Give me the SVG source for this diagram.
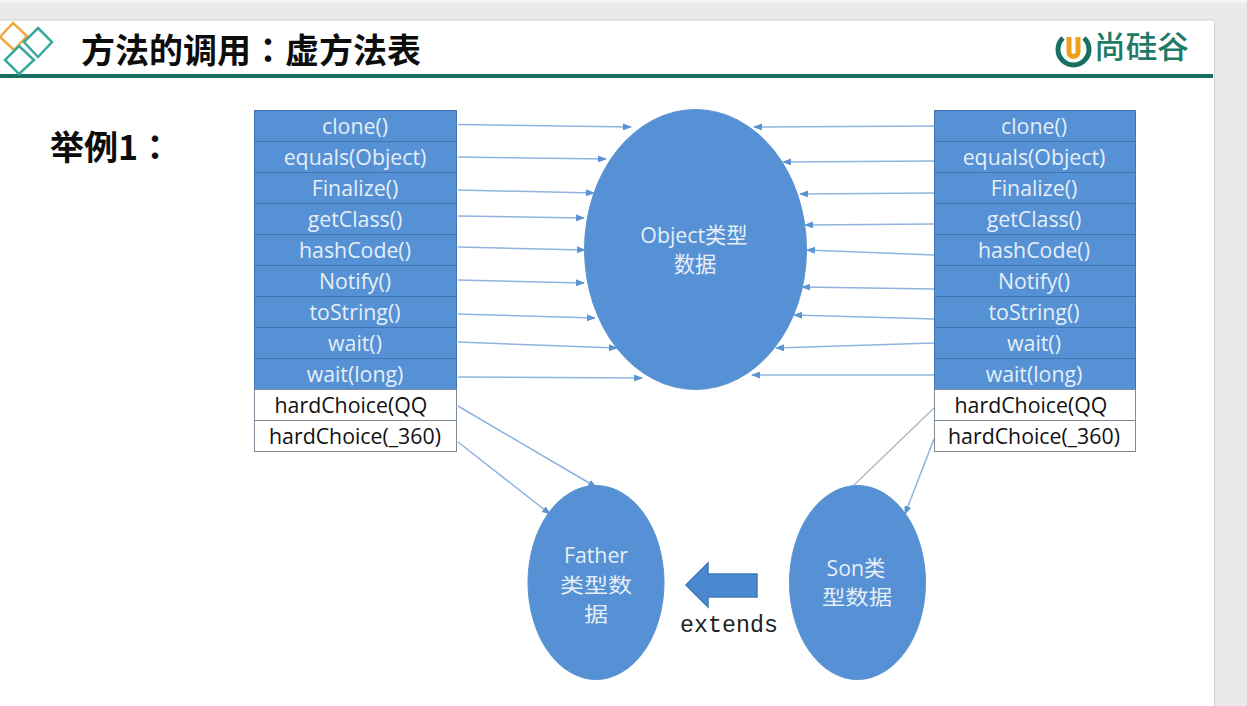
<svg xmlns="http://www.w3.org/2000/svg" width="1247" height="706" viewBox="0 0 1247 706">
<defs>
<marker id="ah" markerWidth="9" markerHeight="7" refX="8" refY="3.5" orient="auto" markerUnits="userSpaceOnUse"><path d="M0 0L9 3.5L0 7Z" fill="#5b94d3"/></marker>
</defs>
<style>
.t{font-family:"Open Sans","Noto Sans CJK SC",sans-serif;font-size:21.3px;text-anchor:middle}
.z{font-size:20px}
.w{fill:#e6eef8}
.k{fill:#111}
.c{fill:#5591d4;stroke:#3f76b0;stroke-width:1}
.b{fill:#fff;stroke:#7f8a99;stroke-width:1}
.e{fill:#5591d4;stroke:#5b93cf;stroke-width:1}
.l{stroke:#8fb3de;stroke-width:1.500;fill:none;marker-end:url(#ah)}
.title{font-family:"Noto Sans CJK TC",sans-serif;font-weight:700;fill:#0d0d0d;font-size:34px}
</style>
<rect width="1247" height="706" fill="#eaeaea"/>
<rect x="0" y="0" width="1247" height="3" fill="#f3f3f3"/>
<rect x="0" y="20" width="1214" height="686" fill="#fff"/>
<path d="M1214.500 20V706M0 20H1214" stroke="#d0d0d0" fill="none"/>
<g id="header">
<path d="M0 76H1213" stroke="#17705f" stroke-width="4"/>
<path d="M13 23L27 36L14 50L0 37Z" fill="none" stroke="#f0a93c" stroke-width="2.500"/>
<path d="M38 28L52 42L38 57L24 42Z" fill="none" stroke="#3aa99d" stroke-width="2.500"/>
<path d="M19 46L34 60L19 74L5 60Z" fill="none" stroke="#3aa99d" stroke-width="2.500"/>
<text class="title" x="81" y="63">方法的调用：虚方法表</text>
<text class="title" x="50" y="160">举例1：</text>
<g id="logo">
<path d="M1063 38A15.500 15.500 0 1 0 1084 38" fill="none" stroke="#17705f" stroke-width="5"/>
<path d="M1069 37V52A4.500 4.500 0 0 0 1078 52V37" fill="none" stroke="#f0a01e" stroke-width="5"/>
<text x="1094" y="58" font-family="Noto Sans CJK SC,sans-serif" font-size="31" font-weight="500" fill="#1f7a68" textLength="95" lengthAdjust="spacingAndGlyphs">尚硅谷</text>
</g>
</g>
<g id="connectors">
<path class="l" d="M458 124.500L631 127"/>
<path class="l" d="M458 157L606 159"/>
<path class="l" d="M458 190L594 193"/>
<path class="l" d="M458 216L584 218"/>
<path class="l" d="M458 247L585 250"/>
<path class="l" d="M458 280L584 283"/>
<path class="l" d="M458 314L595 318"/>
<path class="l" d="M458 342L617 348"/>
<path class="l" d="M458 377L642 378"/>
<path class="l" d="M934 126L754 127"/>
<path class="l" d="M934 161L783 162"/>
<path class="l" d="M934 193L800 194"/>
<path class="l" d="M934 224L805 225"/>
<path class="l" d="M934 255L807 250"/>
<path class="l" d="M934 289L802 287"/>
<path class="l" d="M934 319L794 315"/>
<path class="l" d="M934 343L776 348"/>
<path class="l" d="M934 375L752 375"/>
<path class="l" d="M458 406L596 487"/>
<path class="l" d="M458 442L550 514"/>
<path d="M934 408L853 486" stroke="#a9b7c6" stroke-width="1.300" fill="none"/>
<path class="l" d="M934 439L905 514"/>
</g>
<g id="left-table">
<rect class="c" x="254.500" y="110.500" width="202" height="31"/>
<rect class="c" x="254.500" y="141.500" width="202" height="31"/>
<rect class="c" x="254.500" y="172.500" width="202" height="31"/>
<rect class="c" x="254.500" y="203.500" width="202" height="31"/>
<rect class="c" x="254.500" y="234.500" width="202" height="31"/>
<rect class="c" x="254.500" y="265.500" width="202" height="31"/>
<rect class="c" x="254.500" y="296.500" width="202" height="31"/>
<rect class="c" x="254.500" y="327.500" width="202" height="31"/>
<rect class="c" x="254.500" y="358.500" width="202" height="31"/>
<rect class="b" x="254.500" y="389.500" width="202" height="31"/>
<rect class="b" x="254.500" y="420.500" width="202" height="31"/>
<text class="t w" x="355" y="134">clone()</text>
<text class="t w" x="355" y="165">equals(Object)</text>
<text class="t w" x="355" y="196">Finalize()</text>
<text class="t w" x="355" y="227">getClass()</text>
<text class="t w" x="355" y="258">hashCode()</text>
<text class="t w" x="355" y="289">Notify()</text>
<text class="t w" x="355" y="320">toString()</text>
<text class="t w" x="355" y="351">wait()</text>
<text class="t w" x="355" y="382">wait(long)</text>
<text class="t k" x="351" y="413">hardChoice(QQ</text>
<text class="t k" x="355" y="444">hardChoice(_360)</text>
</g>
<g id="right-table">
<rect class="c" x="934.500" y="110.500" width="201" height="31"/>
<rect class="c" x="934.500" y="141.500" width="201" height="31"/>
<rect class="c" x="934.500" y="172.500" width="201" height="31"/>
<rect class="c" x="934.500" y="203.500" width="201" height="31"/>
<rect class="c" x="934.500" y="234.500" width="201" height="31"/>
<rect class="c" x="934.500" y="265.500" width="201" height="31"/>
<rect class="c" x="934.500" y="296.500" width="201" height="31"/>
<rect class="c" x="934.500" y="327.500" width="201" height="31"/>
<rect class="c" x="934.500" y="358.500" width="201" height="31"/>
<rect class="b" x="934.500" y="389.500" width="201" height="31"/>
<rect class="b" x="934.500" y="420.500" width="201" height="31"/>
<text class="t w" x="1034" y="134">clone()</text>
<text class="t w" x="1034" y="165">equals(Object)</text>
<text class="t w" x="1034" y="196">Finalize()</text>
<text class="t w" x="1034" y="227">getClass()</text>
<text class="t w" x="1034" y="258">hashCode()</text>
<text class="t w" x="1034" y="289">Notify()</text>
<text class="t w" x="1034" y="320">toString()</text>
<text class="t w" x="1034" y="351">wait()</text>
<text class="t w" x="1034" y="382">wait(long)</text>
<text class="t k" x="1031" y="413">hardChoice(QQ</text>
<text class="t k" x="1034" y="444">hardChoice(_360)</text>
</g>
<g id="object-node">
<ellipse class="e" cx="695.500" cy="249.500" rx="111" ry="140"/>
<text class="t w" x="694" y="243">Object类型</text>
<text class="t w" x="695" y="272">数据</text>
</g>
<g id="father-node">
<ellipse class="e" cx="596" cy="582.500" rx="68" ry="97"/>
<text class="t w" x="596" y="563">Father</text>
<text class="t w z" x="596" y="593" textLength="72" lengthAdjust="spacingAndGlyphs">类型数</text>
<text class="t w z" x="596" y="622" textLength="24" lengthAdjust="spacingAndGlyphs">据</text>
</g>
<g id="son-node">
<ellipse class="e" cx="857.500" cy="582.500" rx="68" ry="97"/>
<text class="t w" x="856" y="576">Son类</text>
<text class="t w z" x="857" y="605" textLength="70" lengthAdjust="spacingAndGlyphs">型数据</text>
</g>
<g id="extends">
<path d="M757 574V597H708V607L686 585L708 563V574Z" fill="#4a88cf" stroke="#3f78b8" stroke-width="1.500"/>
<text x="729" y="632" font-family="Liberation Mono,monospace" font-size="23.300" text-anchor="middle" fill="#222">extends</text>
</g>
</svg>
